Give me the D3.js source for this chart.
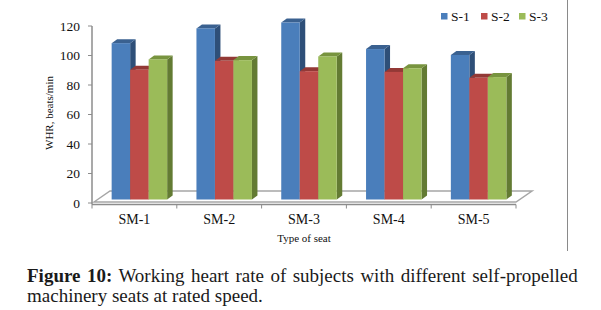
<!DOCTYPE html>
<html>
<head>
<meta charset="utf-8">
<script src="https://cdn.jsdelivr.net/npm/d3@7"></script>
<style>
  body { margin: 0; background: #fff; }
  svg { display: block; }
  svg text { font-family: "Liberation Serif", "Times New Roman", serif; }
</style>
</head>
<body>
<svg id="chart" width="601" height="310"></svg>
<script>
// Chart data
const categories = ["SM-1", "SM-2", "SM-3", "SM-4", "SM-5"];
const seriesNames = ["S-1", "S-2", "S-3"];
const s1Values = [106, 116, 120, 102, 98];
const s2Values = [88, 94, 87, 86.5, 82.5];
const s3Values = [95, 94.5, 97, 89, 83];
const yTicks = [0, 20, 40, 60, 80, 100, 120];

const seriesValues = [s1Values, s2Values, s3Values];
const frontColors = ["#4a7ebb", "#be4b48", "#9bbb59"];
const topColors = ["#3a6190", "#933936", "#78943f"];
const sideColors = ["#2e4f78", "#7f2f2d", "#637b33"];

const svg = d3.select("#chart");

// Scales
const x = d3.scaleBand().domain(categories).range([92, 516]);
const y = d3.scaleLinear().domain([0, 120]).range([203, 26]);
const groupWidth = 55.5;
const sx = d3.scaleBand().domain(seriesNames).range([0, groupWidth]);

// 3D depth of the bars and the floor
const dx = 5.5, dy = 4, lift = 3.5;
const floorDx = 16, floorDy = 11;

// Floor plate
const y0 = y(0);
svg.append("polygon")
    .attr("points", [
        [x.range()[0] + 2, y0 - 1],
        [x.range()[0] + 2 + floorDx, y0 - 1 - floorDy],
        [x.range()[1] + floorDx, y0 - 1 - floorDy],
        [x.range()[1], y0 - 1]
    ].map(p => p.join(",")).join(" "))
    .attr("fill", "#fff")
    .attr("stroke", "#a6a6a6")
    .attr("stroke-width", 1.5);

// Bars
categories.forEach(function (c, ci) {
    const gx = x(c) + (x.bandwidth() - groupWidth) / 2 + 5;
    seriesNames.forEach(function (s, si) {
        const v = seriesValues[si][ci];
        const x0 = gx + sx(s), w = sx.bandwidth();
        const yt = y(v) - lift, yb = y(0) - lift;
        svg.append("polygon")
            .attr("points", [[x0 + w, yt], [x0 + w + dx, yt - dy], [x0 + w + dx, yb - dy], [x0 + w, yb]].map(p => p.join(",")).join(" "))
            .attr("fill", sideColors[si]);
        svg.append("polygon")
            .attr("points", [[x0, yt], [x0 + dx, yt - dy], [x0 + w + dx, yt - dy], [x0 + w, yt]].map(p => p.join(",")).join(" "))
            .attr("fill", topColors[si]);
        svg.append("rect")
            .attr("x", x0).attr("y", yt)
            .attr("width", w).attr("height", yb - yt)
            .attr("fill", frontColors[si]);
    });
});

// X axis
const xAxisY = y0 + 1.5;
svg.append("line")
    .attr("x1", x.range()[0]).attr("x2", x.range()[1])
    .attr("y1", xAxisY).attr("y2", xAxisY)
    .attr("stroke", "#8c8c8c").attr("stroke-width", 1.5);
svg.selectAll(".xtick")
    .data(categories.map(c => x(c)).concat([x.range()[1]]))
    .enter().append("line")
    .attr("x1", d => d).attr("x2", d => d)
    .attr("y1", xAxisY).attr("y2", xAxisY + 4)
    .attr("stroke", "#8c8c8c").attr("stroke-width", 1);
svg.selectAll(".xlabel")
    .data(categories)
    .enter().append("text")
    .attr("x", d => x(d) + x.bandwidth() / 2)
    .attr("y", 223.5)
    .attr("text-anchor", "middle")
    .attr("font-size", "14px")
    .attr("fill", "#111")
    .text(d => d);
svg.append("text")
    .attr("x", (x.range()[0] + x.range()[1]) / 2)
    .attr("y", 241.5)
    .attr("text-anchor", "middle")
    .attr("font-size", "11px")
    .attr("fill", "#111")
    .text("Type of seat");

// Y axis
svg.append("line")
    .attr("x1", 92).attr("x2", 92)
    .attr("y1", y(120)).attr("y2", xAxisY)
    .attr("stroke", "#8c8c8c").attr("stroke-width", 1.5);
svg.selectAll(".ytick")
    .data(yTicks)
    .enter().append("line")
    .attr("x1", 88).attr("x2", 92)
    .attr("y1", d => y(d)).attr("y2", d => y(d))
    .attr("stroke", "#8c8c8c").attr("stroke-width", 1);
svg.selectAll(".ylabel")
    .data(yTicks)
    .enter().append("text")
    .attr("x", 80)
    .attr("y", d => y(d))
    .attr("dy", "0.35em")
    .attr("text-anchor", "end")
    .attr("font-size", "13.5px")
    .attr("fill", "#111")
    .text(d => d);
svg.append("text")
    .attr("transform", "translate(53,113) rotate(-90)")
    .attr("text-anchor", "middle")
    .attr("font-size", "11px")
    .attr("fill", "#111")
    .text("WHR, beats/min");

// Legend
const legendX = d3.scaleOrdinal().domain(seriesNames).range([441, 481, 519]);
seriesNames.forEach(function (s, si) {
    svg.append("rect")
        .attr("x", legendX(s)).attr("y", 13)
        .attr("width", 6.5).attr("height", 6.5)
        .attr("fill", frontColors[si]);
    svg.append("text")
        .attr("x", legendX(s) + 10).attr("y", 21)
        .attr("font-size", "13.5px")
        .attr("fill", "#111")
        .text(s);
});

// Chart area border on the right
svg.append("line")
    .attr("x1", 567.5).attr("x2", 567.5)
    .attr("y1", 0).attr("y2", 251)
    .attr("stroke", "#8a8a8a").attr("stroke-width", 1);

// Caption
const cap1 = svg.append("text")
    .attr("x", 27).attr("y", 281.5)
    .attr("font-size", "19px")
    .attr("fill", "#1a1a1a");
cap1.append("tspan").attr("font-weight", "bold").text("Figure 10:");
cap1.append("tspan").text(" Working heart rate of subjects with different self-propelled");
const natural = cap1.node().getComputedTextLength();
cap1.attr("word-spacing", ((576 - 27 - natural) / 8) + "px");

svg.append("text")
    .attr("x", 27).attr("y", 301.5)
    .attr("font-size", "19px")
    .attr("fill", "#1a1a1a")
    .text("machinery seats at rated speed.");
</script>
</body>
</html>
